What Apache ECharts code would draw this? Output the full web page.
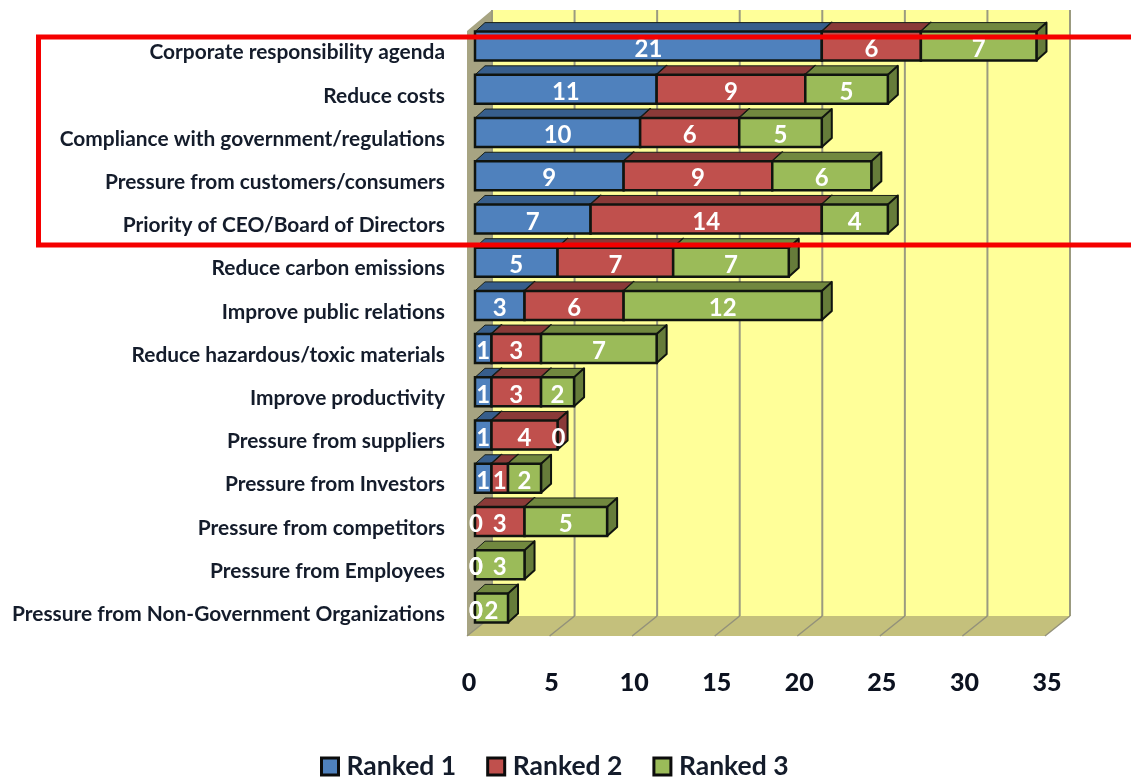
<!DOCTYPE html>
<html>
<head>
<meta charset="utf-8">
<style>html,body{margin:0;padding:0;background:#fff}#c{width:1131px;height:778px}</style>
<script src="https://cdn.jsdelivr.net/npm/echarts@6/dist/echarts.min.js"></script>
</head>
<body>
<div id="c"></div>
<script>
const categories = [
  "Corporate responsibility agenda","Reduce costs","Compliance with government/regulations",
  "Pressure from customers/consumers","Priority of CEO/Board of Directors","Reduce carbon emissions",
  "Improve public relations","Reduce hazardous/toxic materials","Improve productivity",
  "Pressure from suppliers","Pressure from Investors","Pressure from competitors",
  "Pressure from Employees","Pressure from Non-Government Organizations"
];
const ranked1 = [21,11,10,9,7,5,3,1,1,1,1,0,0,0];
const ranked2 = [6,9,6,9,14,7,6,3,3,4,1,3,0,0];
const ranked3 = [7,5,5,6,4,7,12,7,2,0,2,5,3,2];
const xTicks = [0,5,10,15,20,25,30,35];

const FONT = 'Lato, "Open Sans", sans-serif';
const INK = '#141c2b';
const OUT = '#10140f';
// 3D offsets (pixels) of the bars and of the chart walls relative to the grid plane
const BAR_DX = 6, BAR_DY = -6.5, DEPTH_X = 10, DEPTH_Y = -9, BAR_H = 29;
const BACK_DX = 23, BACK_DY = -20, FRONT_DX = -2;

function segments(values, prevs) {
  return values.map((v, i) => {
    const start = prevs.reduce((s, p) => s + p[i], 0);
    return [i, start, start + v, v];
  });
}
function barRender(front, top, side) {
  return function (params, api) {
    const row = api.value(0), s = api.value(1), e = api.value(2), v = api.value(3);
    const p0 = api.coord([s, row]), p1 = api.coord([e, row]);
    const x0 = p0[0] + BAR_DX, x1 = p1[0] + BAR_DX;
    const yC = p0[1] + BAR_DY, y0 = yC - BAR_H / 2, y1 = yC + BAR_H / 2;
    const children = [];
    if (v > 0) {
      children.push({
        type: 'polygon', z2: 1,
        shape: { points: [[x0, y0], [x0 + DEPTH_X, y0 + DEPTH_Y], [x1 + DEPTH_X, y0 + DEPTH_Y], [x1, y0]] },
        style: { fill: top, stroke: '#1a2018', lineWidth: 1 }
      }, {
        type: 'polygon', z2: 1,
        shape: { points: [[x1, y0], [x1 + DEPTH_X, y0 + DEPTH_Y], [x1 + DEPTH_X, y1 + DEPTH_Y], [x1, y1]] },
        style: { fill: side, stroke: OUT, lineWidth: 2, lineJoin: 'round' }
      }, {
        type: 'rect', z2: 2,
        shape: { x: x0, y: y0, width: x1 - x0, height: y1 - y0 },
        style: { fill: front, stroke: OUT, lineWidth: 2.5 }
      });
    }
    children.push({
      type: 'text', z2: 50,
      style: {
        x: (x0 + x1) / 2 + (v === 0 ? 1 : 0), y: yC + 3, text: String(v), fill: '#ffffff',
        font: 'bold 24px ' + FONT, align: 'center', verticalAlign: 'middle'
      }
    });
    return { type: 'group', children };
  };
}
function wallRender(params, api) {
  const cs = params.coordSys;
  const tick = api.value(0);
  const px = api.coord([tick, 0])[0];
  const bottom = cs.y + cs.height, topY = cs.y;
  const bx = cs.x + BACK_DX, bxR = cs.x + cs.width + BACK_DX, by = bottom + BACK_DY, byT = topY + BACK_DY - 1;
  const fx = cs.x + FRONT_DX, fxR = cs.x + cs.width + FRONT_DX;
  const children = [];
  if (params.dataIndex === 0) {
    children.push(
      { type: 'polygon', shape: { points: [[bx, byT], [bxR, byT], [bxR, by], [bx, by]] }, style: { fill: '#ffff99' } },
      { type: 'polygon', shape: { points: [[fx, bottom], [fxR, bottom], [bxR, by], [bx, by]] }, style: { fill: '#c4c07c' } },
      { type: 'polygon', shape: { points: [[fx, bottom], [bx, by], [bx, byT], [fx, topY]] }, style: { fill: '#a7a482' } }
    );
  }
  children.push(
    { type: 'line', z2: 1, shape: { x1: px + BACK_DX, y1: byT, x2: px + BACK_DX, y2: by }, style: { stroke: '#9b9b80', lineWidth: 2 } },
    { type: 'line', z2: 1, shape: { x1: px + BACK_DX, y1: by, x2: px + FRONT_DX, y2: bottom }, style: { stroke: '#93917a', lineWidth: 1.5 } }
  );
  return { type: 'group', children };
}

const chart = echarts.init(document.getElementById('c'), null, { renderer: 'canvas' });
const s1 = segments(ranked1, []);
const s2 = segments(ranked2, [ranked1]);
const s3 = segments(ranked3, [ranked1, ranked2]);
const dims = { x: [1, 2], y: 0 };

chart.setOption({
  animation: false,
  backgroundColor: '#ffffff',
  grid: { left: 469, top: 31, width: 578, height: 605, containLabel: false },
  xAxis: {
    type: 'value', min: 0, max: 35, interval: 5,
    axisLine: { show: false }, axisTick: { show: false }, splitLine: { show: false },
    axisLabel: { margin: 34, color: '#0c1220', fontFamily: FONT, fontWeight: 900, fontSize: 25, showMinLabel: true, showMaxLabel: true }
  },
  yAxis: {
    type: 'category', inverse: true, data: categories,
    axisLine: { show: false }, axisTick: { show: false }, splitLine: { show: false },
    axisLabel: { margin: 24, color: INK, fontFamily: FONT, fontWeight: 'bold', fontSize: 20.9, interval: 0, padding: [2, 0, 0, 0] }
  },
  legend: {
    data: ['Ranked 1', 'Ranked 2', 'Ranked 3'],
    left: 315, top: 748, itemWidth: 17, itemHeight: 17, itemGap: 30, icon: 'rect',
    selectedMode: false,
    textStyle: { color: INK, fontFamily: FONT, fontWeight: 'bold', fontSize: 26.5, padding: [0, 0, 0, 3] },
    itemStyle: { borderColor: '#0c0c0c', borderWidth: 3 }
  },
  series: [
    { type: 'custom', name: 'walls', silent: true, z: 1, renderItem: wallRender, data: xTicks.map(t => [t]), encode: { x: 0 } },
    { type: 'custom', name: 'Ranked 1', z: 3, itemStyle: { color: '#4f81bd' }, renderItem: barRender('#4f81bd', '#375e8c', '#375e8c'), data: s1, encode: dims },
    { type: 'custom', name: 'Ranked 2', z: 3, itemStyle: { color: '#c0504d' }, renderItem: barRender('#c0504d', '#8a3a38', '#8a3a38'), data: s2, encode: dims },
    { type: 'custom', name: 'Ranked 3', z: 3, itemStyle: { color: '#9bbb59' }, renderItem: barRender('#9bbb59', '#71883f', '#667c3a'), data: s3, encode: dims }
  ],
  graphic: [{
    type: 'rect', z: 100, silent: true,
    shape: { x: 38.5, y: 37, width: 1110, height: 208 },
    style: { fill: 'none', stroke: '#f50000', lineWidth: 5 }
  }]
});
</script>
</body>
</html>
